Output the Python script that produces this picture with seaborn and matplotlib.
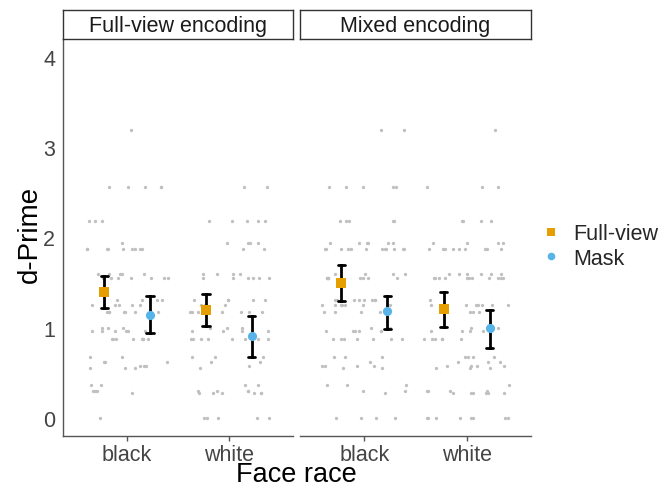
import numpy as np
import pandas as pd
import matplotlib
matplotlib.use("Agg")
import matplotlib.pyplot as plt
from matplotlib.lines import Line2D
import seaborn as sns

sns.set_style("white")
plt.rcParams["font.family"] = ["Liberation Sans", "DejaVu Sans"]

# ---------------- data ----------------
panels = ["Full-view encoding", "Mixed encoding"]
races = ["black", "white"]
conditions = ["Full-view", "Mask"]
cond_colors = ["#E69F00", "#56B4E9"]

# raw d-prime values (gray jittered points), per panel and face race
full_black = [3.19, 2.56, 2.56, 2.56, 2.56, 2.56, 2.18, 2.18, 2.18, 1.94,
              1.87, 1.87, 1.87, 1.87, 1.87, 1.87, 1.87, 1.87, 1.87,
              1.59, 1.59, 1.59, 1.59, 1.59, 1.55, 1.55, 1.55, 1.55, 1.55, 1.55, 1.55,
              1.31, 1.31, 1.31, 1.31, 1.25, 1.25, 1.25, 1.25, 1.25, 1.25,
              1.17, 1.17, 1.17, 1.17, 1.17, 1.17, 1.17, 1.00, 1.00, 1.00,
              0.96, 0.96, 0.96, 0.96, 0.96, 0.96,
              0.87, 0.87, 0.87, 0.87, 0.87, 0.87, 0.87, 0.87,
              0.68, 0.68, 0.62, 0.62, 0.62, 0.58, 0.58, 0.58, 0.55, 0.55, 0.55,
              0.37, 0.37, 0.30, 0.30, 0.30, 0.28, 0.00]
full_white = [2.56, 2.56, 2.18, 2.18, 2.18, 2.18, 2.18, 1.94, 1.94, 1.94, 1.94,
              1.87, 1.87, 1.59, 1.59, 1.59, 1.59, 1.55, 1.55, 1.55, 1.55, 1.55, 1.55,
              1.31, 1.31, 1.31, 1.31, 1.31, 1.25, 1.25, 1.25,
              1.17, 1.17, 1.17, 1.17, 1.17, 1.17, 1.17, 1.17, 1.00, 1.00, 1.00,
              0.96, 0.96, 0.96, 0.96, 0.87, 0.87, 0.87, 0.87, 0.87, 0.87, 0.87, 0.87,
              0.68, 0.68, 0.68, 0.62, 0.62, 0.58, 0.55, 0.37, 0.37,
              0.30, 0.30, 0.30, 0.30, 0.28, 0.28, 0.28, 0.28, 0.28, 0.28,
              0.00, 0.00, 0.00, 0.00, 0.00]
mixed_black = [3.19, 3.19, 2.56, 2.56, 2.56, 2.56, 2.56, 2.18, 2.18, 2.18, 2.18, 2.18,
               1.94, 1.94, 1.94, 1.94, 1.94, 1.94,
               1.87, 1.87, 1.87, 1.87, 1.87, 1.87, 1.87, 1.87, 1.87, 1.87, 1.87, 1.87,
               1.59, 1.59, 1.59, 1.59, 1.55, 1.55, 1.55, 1.55, 1.55, 1.55, 1.55, 1.55, 1.55,
               1.31, 1.31, 1.31, 1.31, 1.31, 1.31, 1.31, 1.31,
               1.25, 1.25, 1.25, 1.25, 1.25, 1.25, 1.25, 1.17, 1.17, 1.17, 1.17,
               1.00, 1.00, 0.96, 0.96, 0.96, 0.96, 0.96,
               0.87, 0.87, 0.87, 0.87, 0.87, 0.87, 0.87, 0.68, 0.68, 0.68, 0.62,
               0.58, 0.58, 0.58, 0.58, 0.55, 0.55, 0.37, 0.37, 0.37, 0.30, 0.30, 0.28,
               0.00, 0.00, 0.00, 0.00]
mixed_white = [3.19, 2.56, 2.56, 2.56, 2.18, 2.18, 2.18, 2.18, 1.94, 1.94, 1.94, 1.94,
               1.87, 1.87, 1.87, 1.87, 1.87, 1.87, 1.87, 1.87, 1.87,
               1.59, 1.59, 1.59, 1.59, 1.59, 1.59,
               1.55, 1.55, 1.55, 1.55, 1.55, 1.55, 1.55, 1.55, 1.55, 1.55, 1.55,
               1.31, 1.25, 1.25, 1.25, 1.25, 1.25, 1.25, 1.25, 1.17, 1.17, 1.17,
               1.00, 1.00, 0.96, 0.96, 0.96, 0.96, 0.87, 0.87, 0.87, 0.87, 0.87, 0.87,
               0.68, 0.68, 0.68, 0.68, 0.62, 0.62, 0.62, 0.58, 0.58, 0.58, 0.58,
               0.55, 0.55, 0.55, 0.37, 0.30, 0.30, 0.30, 0.30,
               0.28, 0.28, 0.28, 0.28, 0.28, 0.28,
               0.00, 0.00, 0.00, 0.00, 0.00, 0.00, 0.00, 0.00]
raw = {
    ("Full-view encoding", "black"): full_black,
    ("Full-view encoding", "white"): full_white,
    ("Mixed encoding", "black"): mixed_black,
    ("Mixed encoding", "white"): mixed_white,
}

# condition means and 95% CI bounds: order black-FV, black-Mask, white-FV, white-Mask
full_mean = [1.40, 1.145, 1.20, 0.91]
full_lo = [1.22, 0.94, 1.02, 0.68]
full_hi = [1.57, 1.35, 1.37, 1.13]
mixed_mean = [1.50, 1.18, 1.21, 1.00]
mixed_lo = [1.30, 0.99, 1.01, 0.78]
mixed_hi = [1.70, 1.35, 1.40, 1.20]
summ = {
    "Full-view encoding": (full_mean, full_lo, full_hi),
    "Mixed encoding": (mixed_mean, mixed_lo, mixed_hi),
}

yticks = [0, 1, 2, 3, 4]

# ---------------- figure ----------------
W, H = 671, 489
fig = plt.figure(figsize=(W / 100, H / 100), dpi=100)
fig.patch.set_facecolor("white")

def fx(px):
    return px / W

def fy(py):
    return 1 - py / H

ax_boxes = [(63, 293), (300, 531)]
top_px, bot_px = 40, 437
spine_col = "#555555"

np.random.seed(3)
axes = []
for i, panel in enumerate(panels):
    x0, x1 = ax_boxes[i]
    ax = fig.add_axes([fx(x0), fy(bot_px), fx(x1 - x0), (bot_px - top_px) / H])
    axes.append(ax)

    rows = []
    for r in races:
        for v in raw[(panel, r)]:
            rows.append({"race": r, "dprime": v})
    df_raw = pd.DataFrame(rows)
    sns.stripplot(data=df_raw, x="race", y="dprime", order=races, jitter=0.42,
                  color="#c0c0c0", size=2.4, linewidth=0, ax=ax, zorder=1)

    means, los, his = summ[panel]
    srows = []
    k = 0
    for r in races:
        for c in conditions:
            for v in (los[k], means[k], his[k]):
                srows.append({"race": r, "cond": c, "dprime": v})
            k += 1
    df_s = pd.DataFrame(srows)
    sns.pointplot(data=df_s, x="race", y="dprime", hue="cond", order=races,
                  hue_order=conditions, palette=cond_colors, markers=["s", "o"],
                  linestyles="none", dodge=0.45, estimator="median",
                  errorbar=lambda v: (np.min(v), np.max(v)), capsize=0.07,
                  err_kws={"color": "black", "linewidth": 2.0},
                  markersize=6.6, ax=ax, legend=False)
    for ln in ax.lines:
        if ln.get_marker() in ("s", "o"):
            ln.set_zorder(5)
            ln.set_markeredgewidth(0)

    ax.set_xlim(-0.631, 1.631)
    ax.set_ylim(-0.2, 4.2)
    ax.set_xlabel("")
    ax.set_ylabel("")
    ax.set_facecolor("white")
    for s in ["top", "right"]:
        ax.spines[s].set_visible(False)
    ax.spines["bottom"].set_color(spine_col)
    ax.spines["bottom"].set_linewidth(1.0)
    if i == 0:
        ax.spines["left"].set_color(spine_col)
        ax.spines["left"].set_linewidth(1.0)
        ax.set_yticks(yticks)
        ax.set_yticklabels([str(t) for t in yticks], fontsize=15.5, color="#444444")
        ax.tick_params(axis="y", length=3.5, color=spine_col, width=1, pad=2)
    else:
        ax.spines["left"].set_visible(False)
        ax.set_yticks([])
    ax.set_xticks([0, 1])
    ax.set_xticklabels(races, fontsize=15.5, color="#444444")
    ax.tick_params(axis="x", length=3.5, color=spine_col, width=1, pad=2,
                   bottom=True)

    # facet strip
    sax = fig.add_axes([fx(x0), fy(top_px), fx(x1 - x0), (top_px - 11) / H])
    sax.set_xticks([])
    sax.set_yticks([])
    sax.set_facecolor("white")
    for s in sax.spines.values():
        s.set_color("#333333")
        s.set_linewidth(1.0)
    sax.text(0.5, 0.45, panel, ha="center", va="center", fontsize=15.5,
             color="#1a1a1a", transform=sax.transAxes)

fig.text(fx(30), fy(234), "d-Prime", rotation=90, ha="center", va="center",
         fontsize=20, color="black")
fig.text(fx(296), fy(482), "Face race", ha="center", va="baseline",
         fontsize=19.5, color="black")

handles = [Line2D([], [], marker="s", linestyle="none", color=cond_colors[0],
                  markersize=5.5, markeredgewidth=0),
           Line2D([], [], marker="o", linestyle="none", color=cond_colors[1],
                  markersize=5.5, markeredgewidth=0)]
fig.legend(handles, conditions, loc="center left",
           bbox_to_anchor=(fx(519), fy(247)), frameon=False, fontsize=15.5,
           handletextpad=0.4, labelspacing=0.15, handlelength=1.2)

fig.savefig("out.png", dpi=100, facecolor="white")
